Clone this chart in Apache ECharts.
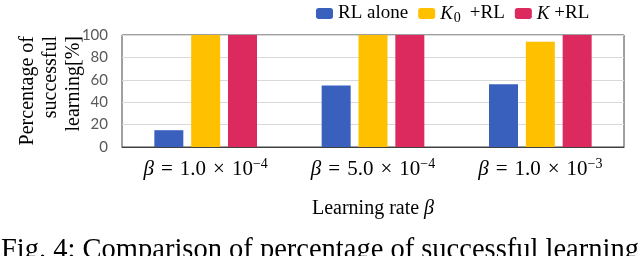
<!DOCTYPE html>
<html><head><meta charset="utf-8">
<script src="https://cdn.jsdelivr.net/npm/echarts@6/dist/echarts.min.js"></script>
<style>html,body{margin:0;padding:0;background:#fff}#c{width:640px;height:256px}</style>
</head><body><div id="c"></div>
<script>
const categories = ['1.0\u2004×\u200410{sup|−4}', '5.0\u2004×\u200410{sup|−4}', '1.0\u2004×\u200410{sup|−3}'];
const seriesNames = ['RL alone', 'K0 +RL', 'K +RL'];
const rlAlone = [15, 55, 56];
const k0RL = [100, 100, 94];
const kRL = [100, 100, 100];
const yTicks = [0, 20, 40, 60, 80, 100];

const serif = '"Liberation Serif", "DejaVu Serif", serif';
const chart = echarts.init(document.getElementById('c'));
const colors = ['#3a60be', '#ffc000', '#dc2a5f'];
chart.setOption({
  animation: false,
  color: colors,
  legend: {
    top: -1, left: 311, itemWidth: 17, itemHeight: 11, itemGap: 10,
    data: seriesNames,
    formatter: function (n) {
      if (n === 'K0 +RL') return '{i|K}{sub|0}{p|+RL}';
      if (n === 'K +RL') return '{i|K} {t|+RL}';
      return '{t|' + n + '}';
    },
    textStyle: {
      fontFamily: serif, fontSize: 19, color: '#000',
      rich: {
        t: {fontFamily: serif, fontSize: 19, color: '#000'},
        p: {fontFamily: serif, fontSize: 19, color: '#000', padding: [0, 0, 0, 9]},
        i: {fontFamily: serif, fontSize: 19, fontStyle: 'italic', color: '#000'},
        sub: {fontFamily: serif, fontSize: 14, color: '#000', verticalAlign: 'bottom', padding: [9, 0, 0, 1]}
      }
    }
  },
  grid: {left: 122, right: 16, top: 35, bottom: 109, show: true, borderColor: '#404040', borderWidth: 1},
  xAxis: {
    type: 'category', data: categories,
    axisTick: {show: false},
    axisLine: {lineStyle: {color: '#404040'}},
    axisLabel: {
      margin: 10, interval: 0,
      formatter: function (v) { return '{i|β}\u2004=\u2004' + v; },
      fontFamily: serif, fontSize: 21, color: '#000',
      rich: {
        i: {fontFamily: serif, fontSize: 21, fontStyle: 'italic', color: '#000'},
        sup: {fontFamily: serif, fontSize: 14, color: '#000', verticalAlign: 'top', padding: [0, 0, 10, 0]}
      }
    },
    name: 'Learning rate {i|β}', nameLocation: 'middle', nameGap: 52,
    nameTextStyle: {
      fontFamily: serif, fontSize: 20, color: '#000',
      rich: {i: {fontFamily: serif, fontSize: 20, fontStyle: 'italic', color: '#000'}}
    }
  },
  yAxis: {
    type: 'value', min: yTicks[0], max: yTicks[yTicks.length - 1], interval: 20,
    axisLine: {show: false}, axisTick: {show: false},
    splitLine: {lineStyle: {color: '#d9d9d9'}},
    axisLabel: {fontFamily: 'Lato, "Open Sans", sans-serif', fontSize: 15, color: '#595959', margin: 14}
  },
  graphic: [
    {
      type: 'text', x: 51, y: 36, rotation: Math.PI / 2,
      style: {
        text: 'Percentage of\nsuccessful\nlearning[%]',
        font: '20px ' + serif, fill: '#000', align: 'right', verticalAlign: 'middle', lineHeight: 23
      }
    },
    {
      type: 'text', x: 1, y: 236.5,
      style: {
        text: 'Fig. 4: Comparison of percentage of successful learning',
        font: '28.5px ' + serif, fill: '#000', align: 'left', verticalAlign: 'top'
      }
    }
  ],
  series: [
    {name: seriesNames[0], type: 'bar', data: rlAlone, barWidth: 29, barGap: '27%'},
    {name: seriesNames[1], type: 'bar', data: k0RL, barWidth: 29, barGap: '27%'},
    {name: seriesNames[2], type: 'bar', data: kRL, barWidth: 29, barGap: '27%'}
  ]
});
</script></body></html>
